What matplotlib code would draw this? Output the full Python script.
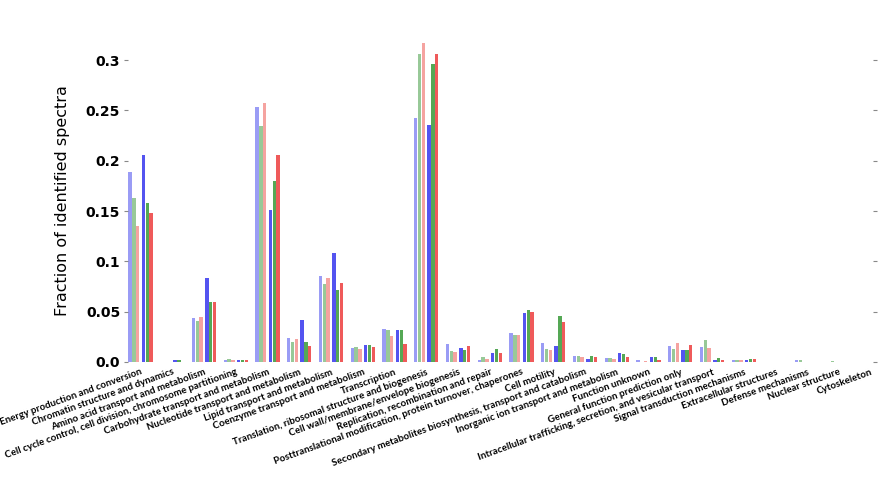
import matplotlib
matplotlib.use("Agg")
import matplotlib.pyplot as plt
import numpy as np

# COG categories
categories = [
    "Energy production and conversion",
    "Chromatin structure and dynamics",
    "Amino acid transport and metabolism",
    "Cell cycle control, cell division, chromosome partitioning",
    "Carbohydrate transport and metabolism",
    "Nucleotide transport and metabolism",
    "Lipid transport and metabolism",
    "Coenzyme transport and metabolism",
    "Transcription",
    "Translation, ribosomal structure and biogenesis",
    "Cell wall/membrane/envelope biogenesis",
    "Replication, recombination and repair",
    "Posttranslational modification, protein turnover, chaperones",
    "Cell motility",
    "Secondary metabolites biosynthesis, transport and catabolism",
    "Inorganic ion transport and metabolism",
    "Function unknown",
    "General function prediction only",
    "Intracellular trafficking, secretion, and vesicular transport",
    "Signal transduction mechanisms",
    "Extracellular structures",
    "Defense mechanisms",
    "Nuclear structure",
    "Cytoskeleton",
]

# six samples, values
light_blue = [0.189, 0.0, 0.044, 0.002, 0.253, 0.024, 0.085, 0.014, 0.033, 0.242, 0.018, 0.0017,
              0.0285, 0.019, 0.006, 0.0043, 0.002, 0.016, 0.0146, 0.002, 0.0, 0.0017, 0.0, 0.0]
light_green = [0.163, 0.0, 0.041, 0.003, 0.235, 0.020, 0.078, 0.015, 0.032, 0.306, 0.011, 0.005,
               0.027, 0.013, 0.006, 0.0043, 0.0, 0.0126, 0.022, 0.002, 0.0, 0.0015, 0.0005, 0.0]
light_red = [0.135, 0.0, 0.045, 0.002, 0.257, 0.023, 0.083, 0.013, 0.0255, 0.317, 0.0103, 0.003,
             0.0265, 0.012, 0.0047, 0.0027, 0.001, 0.0186, 0.0136, 0.002, 0.0, 0.0, 0.0, 0.0]
dark_blue = [0.206, 0.002, 0.083, 0.002, 0.151, 0.042, 0.108, 0.017, 0.0315, 0.236, 0.014, 0.0086,
             0.049, 0.016, 0.0027, 0.0093, 0.0047, 0.0116, 0.0017, 0.0017, 0.0, 0.0, 0.0, 0.0]
dark_green = [0.158, 0.002, 0.060, 0.002, 0.180, 0.020, 0.072, 0.017, 0.032, 0.296, 0.012, 0.013,
              0.052, 0.046, 0.0056, 0.008, 0.0047, 0.0116, 0.0037, 0.0033, 0.0, 0.0, 0.0, 0.0]
dark_red = [0.148, 0.0, 0.060, 0.002, 0.206, 0.016, 0.079, 0.015, 0.018, 0.306, 0.016, 0.0086,
            0.050, 0.040, 0.005, 0.0053, 0.0017, 0.017, 0.002, 0.0033, 0.0, 0.0, 0.0, 0.0]

series = [light_blue, light_green, light_red, dark_blue, dark_green, dark_red]
colors = ["#9a9cf5", "#98c998", "#f5a3a0", "#5454f0", "#55a855", "#ef5a5a"]

y_ticks = [0.0, 0.05, 0.1, 0.15, 0.2, 0.25, 0.3]
y_tick_labels = ["0.0", "0.05", "0.1", "0.15", "0.2", "0.25", "0.3"]

fig = plt.figure(figsize=(8.8, 4.78), dpi=100)
ax = fig.add_axes([0.146, 0.2427, 0.846, 0.6736])

x = np.arange(len(categories))
px = 1 / 31.75  # one pixel in group units
offsets = np.array([-10.5, -6.7, -2.9, 2.9, 6.7, 10.5]) * px
for vals, off, c in zip(series, offsets, colors):
    ax.bar(x + off, vals, width=3.4 * px, color=c, linewidth=0)

ax.set_xlim(-0.38, 23.07)
ax.set_ylim(0, 0.32)

for s in ax.spines.values():
    s.set_visible(False)

ax.set_yticks(y_ticks)
ax.set_yticklabels(y_tick_labels, fontsize=10, fontweight="bold")
ax.tick_params(axis="y", length=3, color="#888888", pad=3, right=True)

ax.set_xticks(x)
ax.set_xticklabels(categories, rotation=20, ha="right", rotation_mode="anchor",
                   fontsize=7, fontweight="bold", family=["Lato", "DejaVu Sans"])
ax.tick_params(axis="x", length=0, pad=4)

ax.set_ylabel("Fraction of identified spectra", fontsize=11.5)
ax.yaxis.set_label_coords(-0.078, 0.5)

fig.savefig("out.png", dpi=100)
